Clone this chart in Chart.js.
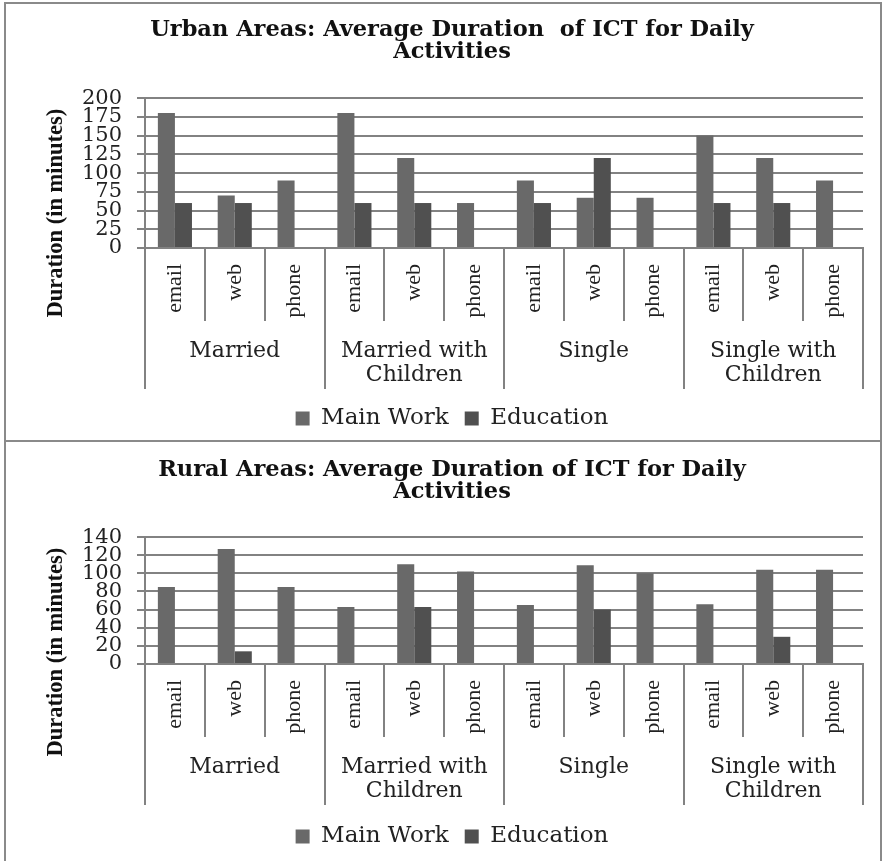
<!DOCTYPE html>
<html><head><meta charset="utf-8">
<script src="https://cdn.jsdelivr.net/npm/chart.js@4.4.1/dist/chart.umd.min.js"></script>
<style>
html,body{margin:0;padding:0;background:#fff;}
#wrap{position:absolute;left:4px;top:2px;width:874px;border:2px solid #8a8a8a;border-bottom:none;}
.panel{position:relative;width:874px;}
#p1{height:436px;border-bottom:2px solid #8a8a8a;}
#p2{height:419px;}
canvas{display:block;}
</style></head><body>
<div id="wrap"><div class="panel" id="p1"><canvas id="c1"></canvas></div><div class="panel" id="p2"><canvas id="c2"></canvas></div></div>
<script>
const groupLabels = ['Married', ['Married with', 'Children'], 'Single', ['Single with', 'Children']];
const subLabels = ['email', 'web', 'phone', 'email', 'web', 'phone', 'email', 'web', 'phone', 'email', 'web', 'phone'];
const seriesNames = ['Main Work', 'Education'];

const urbanTitle = ['Urban Areas: Average Duration  of ICT for Daily', 'Activities'];
const urbanMainWork = [180, 70, 90, 180, 120, 60, 90, 67, 67, 150, 120, 90];
const urbanEducation = [60, 60, 0, 60, 60, 0, 60, 120, 0, 60, 60, 0];
const urbanYTicks = [0, 25, 50, 75, 100, 125, 150, 175, 200];

const ruralTitle = ['Rural Areas: Average Duration of ICT for Daily', 'Activities'];
const ruralMainWork = [85, 127, 85, 63, 110, 102, 65, 109, 100, 66, 104, 104];
const ruralEducation = [0, 14, 0, 0, 63, 0, 0, 60, 0, 0, 30, 0];
const ruralYTicks = [0, 20, 40, 60, 80, 100, 120, 140];

const yTitle = 'Duration (in minutes)';

const WIDE = '"DejaVu Serif", serif';
const TIMES = '"Liberation Serif", "Times New Roman", serif';
Chart.defaults.font.family = WIDE;
Chart.defaults.color = '#222';
const G = '#828282';

// y-axis title, placed relative to the chart area like the original
const yTitlePlugin = {
  id: 'yTitleText',
  afterDraw(chart, args, opts) {
    const { ctx, chartArea } = chart;
    ctx.save();
    ctx.font = 'bold 22.5px ' + TIMES;
    ctx.fillStyle = '#111';
    ctx.textAlign = 'center';
    ctx.textBaseline = 'middle';
    ctx.translate(opts.x, chartArea.top + opts.dy);
    ctx.rotate(-Math.PI / 2);
    ctx.fillText(opts.text, 0, 0);
    ctx.restore();
  }
};

function build(id, title, main, edu, yTicks, L) {
  return new Chart(document.getElementById(id), {
    type: 'bar',
    plugins: [yTitlePlugin],
    data: {
      labels: subLabels,
      datasets: [
        { label: seriesNames[0], data: main, backgroundColor: '#696969', borderWidth: 0, xAxisID: 'x', yAxisID: 'y', categoryPercentage: 0.57, barPercentage: 1 },
        { label: seriesNames[1], data: edu, backgroundColor: '#505050', borderWidth: 0, xAxisID: 'x', yAxisID: 'y', categoryPercentage: 0.57, barPercentage: 1 }
      ]
    },
    options: {
      responsive: true, maintainAspectRatio: false, animation: false,
      layout: { padding: { left: 35, right: 17, top: 0, bottom: L.padBottom } },
      plugins: {
        title: { display: true, text: title, color: '#111', font: { family: WIDE, size: 22.5, weight: 'bold', lineHeight: 0.98 }, padding: { top: L.titleTop, bottom: L.titleBottom } },
        legend: { position: 'bottom', labels: { boxWidth: 14, boxHeight: 14, color: '#222', font: { family: WIDE, size: 23 }, padding: 16 } },
        tooltip: { enabled: false },
        yTitleText: { text: yTitle, x: 50, dy: 115 }
      },
      scales: {
        x: {
          type: 'category', position: 'bottom', weight: 0, offset: true,
          grid: { offset: true, drawOnChartArea: false, drawTicks: true, tickLength: 73, color: G, lineWidth: 2, tickColor: G, tickWidth: 2 },
          border: { display: true, color: G, width: 2 },
          ticks: { autoSkip: false, minRotation: 90, maxRotation: 90, padding: -57, color: '#222', font: { family: TIMES, size: 22 } },
          afterFit: s => { s.height = 73; }
        },
        x2: {
          type: 'category', labels: groupLabels, position: 'bottom', weight: 1, offset: true,
          grid: { offset: true, drawOnChartArea: false, drawTicks: true, tickLength: 68, color: G, lineWidth: 2, tickColor: G, tickWidth: 2 },
          border: { display: false },
          ticks: { autoSkip: false, maxRotation: 0, minRotation: 0, padding: -50, color: '#222', font: { family: WIDE, size: 22, lineHeight: 1.1 } },
          afterFit: s => { s.height = L.x2h; }
        },
        y: {
          min: yTicks[0], max: yTicks[yTicks.length - 1],
          ticks: { stepSize: yTicks[1] - yTicks[0], autoSkip: false, padding: 15, color: '#222', font: { family: WIDE, size: 21, lineHeight: 1 } },
          grid: { color: G, lineWidth: 2, drawTicks: true, tickLength: 8, tickColor: G, tickWidth: 2 },
          border: { display: true, color: G, width: 2 },
          title: { display: false },
          afterFit: s => { s.width = 104; }
        }
      }
    }
  });
}

build('c1', urbanTitle, urbanMainWork, urbanEducation, urbanYTicks, { padBottom: 0, titleTop: 15, titleBottom: 35, x2h: 70 });
build('c2', ruralTitle, ruralMainWork, ruralEducation, ruralYTicks, { padBottom: 3, titleTop: 17, titleBottom: 34, x2h: 72 });
</script>
</body></html>
